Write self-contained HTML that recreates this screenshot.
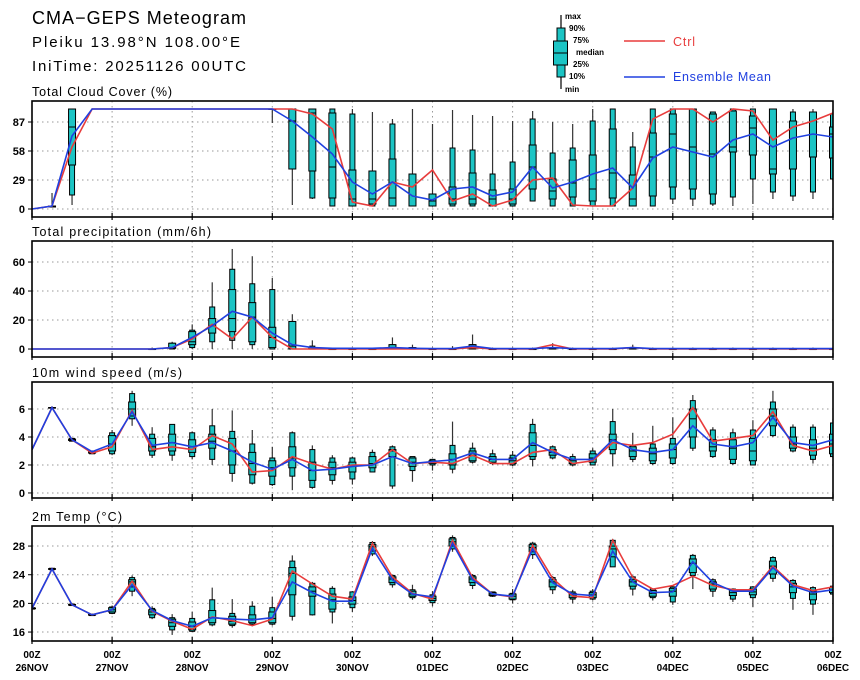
<!DOCTYPE html>
<html><head><meta charset="utf-8">
<style>
html,body{margin:0;padding:0;background:#fff;}
svg{display:block;font-family:"Liberation Sans",sans-serif;}
</style></head>
<body>
<svg id="chart" width="860" height="680" viewBox="0 0 860 680" xmlns="http://www.w3.org/2000/svg">
<text x="32" y="24" font-size="18" fill="#000" textLength="214" lengthAdjust="spacing">CMA−GEPS Meteogram</text>
<text x="32" y="47" font-size="15" fill="#000" textLength="208" lengthAdjust="spacing">Pleiku 13.98°N 108.00°E</text>
<text x="32" y="71" font-size="15" fill="#000" textLength="214" lengthAdjust="spacing">IniTime: 20251126 00UTC</text>
<g>
  <line x1="561" y1="15" x2="561" y2="89" stroke="#000" stroke-width="1.2"/>
  <rect x="557" y="28" width="8" height="49" fill="#1cc4c4" stroke="#000" stroke-width="1"/>
  <rect x="553.5" y="41" width="14" height="24" fill="#1cc4c4" stroke="#000" stroke-width="1"/>
  <line x1="553.5" y1="53" x2="567.5" y2="53" stroke="#000" stroke-width="1"/>
  <g font-size="8" font-weight="bold" fill="#000">
    <text x="565" y="19">max</text>
    <text x="569" y="31">90%</text>
    <text x="573" y="43">75%</text>
    <text x="576" y="55">median</text>
    <text x="573" y="67">25%</text>
    <text x="569" y="79">10%</text>
    <text x="565" y="92">min</text>
  </g>
  <line x1="624" y1="41" x2="665" y2="41" stroke="#e83c3c" stroke-width="1.5"/>
  <text x="673" y="46" font-size="12.5" fill="#e83c3c" textLength="22" lengthAdjust="spacing">Ctrl</text>
  <line x1="624" y1="77" x2="665" y2="77" stroke="#2040e0" stroke-width="1.5"/>
  <text x="673" y="81" font-size="12.5" fill="#2040e0" textLength="98" lengthAdjust="spacing">Ensemble Mean</text>
</g>
</svg>
<script>
// time axis
const dayLabels = ["26NOV","27NOV","28NOV","29NOV","30NOV","01DEC","02DEC","03DEC","04DEC","05DEC","06DEC"];
// ---- Cloud cover (%) ----
const cloudTicks = [0,29,58,87];
const cloudCtrl = [0,3,62,100,100,100,100,100,100,100,100,100,100,100,95,80,7,3,27,22,39,8,15,3,9,29,31,4,3,3,21,90,100,100,87,100,98,69,82,88,96];
const cloudMean = [0,3,73,100,100,100,100,100,100,100,100,100,100,88,72,55,27,15,27,13,9,20,22,13,17,42,21,27,35,41,21,51,62,57,52,69,75,62,71,75,72];
const cloudMin  = [0,2,4,100,100,100,100,100,100,100,100,100,86,4,10,3,3,3,3,3,3,3,3,3,3,8,3,3,3,3,3,3,5,3,3,3,5,10,8,10,30];
const cloudP10  = [0,2,14,100,100,100,100,100,100,100,100,100,100,40,11,3,3,3,3,3,3,3,3,3,3,8,3,3,3,3,3,3,10,10,5,12,30,17,13,17,30];
const cloudP25  = [0,2,44,100,100,100,100,100,100,100,100,100,100,40,38,11,3,5,3,3,3,5,5,3,5,20,10,12,8,11,3,13,22,20,15,57,54,35,40,52,51];
const cloudMed  = [0,3,82,100,100,100,100,100,100,100,100,100,100,88,96,42,10,10,11,3,8,10,10,10,10,42,18,26,20,36,10,52,75,62,55,62,81,40,88,97,75];
const cloudP75  = [0,3,100,100,100,100,100,100,100,100,100,100,100,100,100,96,39,38,50,35,15,22,36,19,20,64,30,49,54,80,34,76,95,100,95,98,93,100,88,97,82];
const cloudP90  = [0,3,100,100,100,100,100,100,100,100,100,100,100,100,100,100,95,38,85,35,15,61,59,35,47,90,56,61,88,100,62,100,100,100,97,100,100,100,97,96,95];
const cloudMax  = [0,16,100,100,100,100,100,100,100,100,100,100,100,100,100,100,100,97,90,100,85,99,94,93,88,98,87,85,100,100,77,100,100,100,97,100,100,100,100,100,100];
// ---- Precipitation (mm/6h) ----
const precTicks = [0,20,40,60];
const precCtrl = [0,0,0,0,0,0,0,1,7,17,7,22,8,0,0,0,0,0,0,0,0,0,1,0,0,0,3,0,0,0,1,0,0,0,0,0,0,0,0,0,0];
const precMean = [0,0,0,0,0,0,0,1,8,16,26,22,11,3,1,0.5,0.5,0.5,1,0.5,0.3,0.3,2,0.3,0.3,0.3,1,0.3,0.3,0.3,1,0.3,0.3,0.3,0.3,0.3,0.3,0.3,0.3,0.3,0.3];
const precMin  = [0,0,0,0,0,0,0,0,0,0,0,0,0,0,0,0,0,0,0,0,0,0,0,0,0,0,0,0,0,0,0,0,0,0,0,0,0,0,0,0,0];
const precP10  = [0,0,0,0,0,0,0,0,1,5,6,3,0,0,0,0,0,0,0,0,0,0,0,0,0,0,0,0,0,0,0,0,0,0,0,0,0,0,0,0,0];
const precP25  = [0,0,0,0,0,0,0,0.5,3,11,12,5,1,0,0,0,0,0,0,0,0,0,0,0,0,0,0,0,0,0,0,0,0,0,0,0,0,0,0,0,0];
const precMed  = [0,0,0,0,0,0,0,1,5,16,21,22,8,2,0,0,0,0,1,0,0,0,1,0,0,0,0,0,0,0,0,0,0,0,0,0,0,0,0,0,0];
const precP75  = [0,0,0,0,0,0,0,4,12,21,41,32,15,19,1,0,0,0,3,1,0,0,3,0,0,0,1,0,0,0,1,0,0,0,0,0,0,0,0,0,0];
const precP90  = [0,0,0,0,0,0,0,4,13,29,55,45,41,19,2,0,0,0,3,1,0,0,3,0,0,0,1,0,0,0,1,0,0,0,0,0,0,0,0,0,0];
const precMax  = [0,0,0,0,0,0,1,5,17,46,69,64,49,24,6,1,1,1,8,3,1,2,10,1,1,1,4,1,1,1,3,1,1,1,1,1,1,1,1,1,1];
// ---- Wind speed (m/s) ----
const windTicks = [0,2,4,6];
const windCtrl = [3.1,6.1,3.8,2.85,3.3,5.9,3.1,3.3,3.1,4.1,3.5,1.5,1.6,2.6,2.1,1.7,2.0,2.0,3.1,2.1,2.2,2.1,2.7,2.1,2.1,2.9,3.1,2.1,2.3,3.6,3.4,3.6,4.2,6.1,3.7,3.9,4.1,5.8,3.4,3.0,3.4];
const windMean = [3.1,6.1,3.8,2.95,3.5,5.8,3.4,3.6,3.3,3.6,3.0,2.2,1.7,2.4,1.6,1.7,1.9,2.0,2.6,2.1,2.25,2.36,2.86,2.4,2.4,3.6,2.9,2.4,2.4,3.8,3.1,2.9,3.1,4.8,3.5,3.3,3.6,5.4,3.6,3.4,3.8];
const windMin  = [3.1,6.1,3.7,2.8,2.7,4.8,2.5,2.3,2.4,2.0,0.8,0.6,0.5,0.2,0.3,0.6,0.6,1.5,0.3,0.8,1.6,1.4,2.1,2.0,1.9,1.9,2.4,1.9,2.0,1.9,2.2,2.0,2.0,3.0,2.5,2.0,2.0,4.0,2.9,2.1,2.5];
const windP10  = [3.1,6.1,3.7,2.8,2.8,5.3,2.7,2.7,2.6,2.4,1.4,0.7,0.6,1.2,0.4,0.9,1.0,1.5,0.5,1.6,2.0,1.7,2.2,2.1,2.0,2.4,2.5,2.0,2.0,2.8,2.4,2.1,2.1,3.2,2.6,2.1,2.0,4.1,3.0,2.4,2.6];
const windP25  = [3.1,6.1,3.75,2.85,3.0,5.5,3.0,3.0,2.9,3.2,2.0,1.3,1.2,1.8,0.9,1.3,1.5,1.8,2.6,1.9,2.1,2.0,2.3,2.2,2.1,2.6,2.7,2.1,2.2,3.1,2.6,2.3,2.5,4.0,3.0,2.4,2.3,4.8,3.2,2.7,2.8];
const windMed  = [3.1,6.1,3.8,2.9,3.5,6.0,3.3,3.6,3.3,3.7,3.0,2.1,1.8,2.5,1.6,1.8,1.9,2.1,3.0,2.2,2.2,2.4,2.7,2.4,2.3,3.4,2.9,2.3,2.5,3.8,3.0,2.8,3.1,5.3,3.3,3.2,3.0,5.5,3.5,3.2,3.5];
const windP75  = [3.1,6.1,3.85,2.95,4.1,6.5,3.9,4.2,3.8,4.2,3.9,2.9,2.3,3.3,2.2,2.2,2.2,2.6,3.1,2.5,2.3,2.8,3.0,2.6,2.5,4.3,3.1,2.4,2.8,4.2,3.3,3.2,3.5,6.0,3.8,3.8,3.9,6.0,4.0,3.8,4.2];
const windP90  = [3.1,6.1,3.9,3.0,4.3,7.1,4.2,4.9,4.3,4.8,4.4,3.5,2.5,4.3,3.1,2.5,2.5,2.9,3.3,2.6,2.4,3.4,3.2,2.8,2.7,4.9,3.3,2.6,3.0,5.1,3.4,3.5,3.9,6.6,4.5,4.3,4.5,6.5,4.7,4.7,5.0];
const windMax  = [3.1,6.2,3.9,3.0,4.5,7.3,4.7,4.9,4.4,6.0,5.9,4.5,3.3,4.4,3.4,2.7,2.6,3.1,3.4,2.6,2.4,5.1,3.6,3.1,3.0,5.3,3.4,2.8,3.2,6.0,4.3,4.8,5.4,7.0,4.7,4.6,5.2,7.3,4.9,4.9,5.3];
// ---- 2m Temperature (°C) ----
const tempTicks = [16,20,24,28];
const tempCtrl = [19.3,24.8,19.8,18.4,19.1,23.1,18.9,17.5,16.4,18.1,17.6,16.9,17.8,24.5,22.7,21.0,20.6,28.4,23.7,21.4,20.6,28.8,23.6,21.3,20.9,28.1,23.5,21.0,20.8,28.8,23.6,22.0,22.5,23.8,22.5,21.9,21.9,25.2,22.6,21.8,22.3];
const tempMean = [19.3,24.8,19.8,18.4,19.1,22.6,19.0,17.6,16.8,18.0,17.8,17.7,18.0,23.0,21.5,20.3,20.3,27.7,23.3,21.3,20.9,28.4,23.3,21.3,21.0,27.6,22.9,21.3,21.1,27.3,23.0,21.5,21.6,25.8,22.9,21.7,21.7,25.0,22.4,21.5,21.9];
const tempMin  = [19.2,24.7,19.7,18.3,18.5,21.0,17.8,15.6,16.0,16.8,16.6,16.8,16.9,17.6,18.3,17.2,18.8,26.6,22.2,20.5,19.6,27.2,22.0,20.9,20.0,26.2,21.3,20.0,20.4,25.1,21.1,20.4,19.8,22.0,20.9,20.2,19.5,23.0,19.1,18.4,21.0];
const tempP10  = [19.2,24.7,19.7,18.3,18.6,21.7,18.0,16.3,16.1,17.0,16.9,17.1,17.1,18.2,18.4,18.8,19.4,26.9,22.6,20.8,20.1,27.6,22.5,21.0,20.5,26.8,21.9,20.6,20.6,25.1,22.0,20.8,20.2,23.9,21.7,20.6,20.8,23.5,20.7,19.9,21.3];
const tempP25  = [19.25,24.75,19.75,18.35,18.8,22.3,18.4,16.8,16.3,17.3,17.1,17.3,17.3,21.2,21.0,19.2,19.9,27.3,22.9,21.0,20.4,28.0,22.9,21.1,20.6,27.2,22.3,20.8,20.8,26.5,22.4,21.0,21.0,24.3,22.0,21.1,21.2,24.1,21.5,20.5,21.5];
const tempMed  = [19.3,24.8,19.8,18.4,19.1,23.0,18.8,17.3,16.8,18.0,17.5,17.8,17.9,24.2,21.7,20.5,20.4,27.9,23.4,21.3,20.7,28.6,23.4,21.3,21.0,27.8,23.0,21.2,21.2,27.6,23.0,21.4,21.7,25.6,22.7,21.5,21.6,25.2,22.3,21.3,21.9];
const tempP75  = [19.35,24.85,19.85,18.45,19.4,23.3,19.1,17.8,17.4,19.0,18.2,18.4,18.8,25.0,22.3,21.3,20.9,28.2,23.7,21.7,21.0,29.0,23.7,21.5,21.3,28.2,23.3,21.4,21.5,28.0,23.3,21.8,22.1,26.2,23.0,21.8,22.0,25.9,22.8,21.7,22.2];
const tempP90  = [19.4,24.9,19.9,18.5,19.5,23.6,19.3,18.0,17.9,20.5,18.6,19.6,19.4,25.9,22.8,22.1,21.6,28.5,23.9,21.9,21.2,29.2,23.9,21.6,21.4,28.4,23.6,21.6,21.7,28.8,23.7,22.0,22.3,26.7,23.3,22.0,22.3,26.4,23.2,22.2,22.4];
const tempMax  = [19.4,24.9,19.9,18.5,19.7,23.9,19.6,18.5,18.8,22.2,20.6,20.3,20.9,26.7,23.0,22.4,21.7,28.7,24.0,22.6,21.7,29.5,24.1,21.6,22.0,28.6,23.8,21.9,22.0,29.0,23.9,22.1,22.5,26.9,23.5,22.1,22.4,26.6,23.4,22.4,22.5];

const NS = "http://www.w3.org/2000/svg";
const svg = document.getElementById("chart");
const X0 = 32, X1 = 833, NSTEP = 40;
function xScale(i){ return X0 + (X1 - X0) * i / NSTEP; }
function mk(tag, attrs, parent){
  const el = document.createElementNS(NS, tag);
  for (const k in attrs) el.setAttribute(k, attrs[k]);
  (parent || svg).appendChild(el);
  return el;
}

function drawPanel(p){
  const g = mk("g", {});
  
  
  const yScale = v => p.top + (p.vmax - v) / (p.vmax - p.vmin) * (p.bottom - p.top);
  const clipId = p.name + "-clip";
  const defs = mk("defs", {}, g);
  const cp = mk("clipPath", {id: clipId}, defs);
  mk("rect", {x: X0, y: p.top, width: X1 - X0, height: p.bottom - p.top}, cp);
  const t = mk("text", {x: X0, y: p.top - 5, "font-size": 12.5, fill: "#000", textLength: p.titleLen, lengthAdjust: "spacing"}, g);
  
  
  t.textContent = p.title;
  for (let d = 1; d < dayLabels.length - 1; d++){
    const x = xScale(d * 4);
    const gl = mk("line", {x1: x, y1: p.top, x2: x, y2: p.bottom, stroke: "#999", "stroke-width": 1, "stroke-dasharray": "1.5,3.5"}, g);
    
    
  }
  p.ticks.forEach(v => {
    const y = yScale(v);
    const gl = mk("line", {x1: X0, y1: y, x2: X1, y2: y, stroke: "#999", "stroke-width": 1, "stroke-dasharray": "1.5,3.5"}, g);
    
    
    const tk = mk("line", {x1: X0 - 4, y1: y, x2: X0, y2: y, stroke: "#000", "stroke-width": 1}, g);
    
    
    const lb = mk("text", {x: 25, y: y + 4, "font-size": 11, "font-weight": "bold", "text-anchor": "end", fill: "#000"}, g);
    
    
    lb.textContent = v;
  });
  for (let d = 0; d < dayLabels.length; d++){
    const x = xScale(d * 4);
    const tk = mk("line", {x1: x, y1: p.bottom - 4, x2: x, y2: p.bottom + 3, stroke: "#000", "stroke-width": 1.2}, g);
    
    
  }
  const pg = mk("g", {"clip-path": "url(#" + clipId + ")"}, g);
  for (let i = 0; i < p.ctrl.length; i++){
    if (p.max[i] - p.min[i] <= 0) continue;
    const x = xScale(i);
    const bg = mk("g", {}, pg);
    
    
    mk("line", {x1: x, y1: yScale(p.max[i]), x2: x, y2: yScale(p.min[i]), stroke: "#333", "stroke-width": 1.2}, bg);
    const y90 = yScale(p.p90[i]), y10 = yScale(p.p10[i]);
    mk("rect", {x: x - 2.5, y: y90, width: 5, height: Math.max(0.5, y10 - y90), fill: "#1cc4c4", stroke: "#000", "stroke-width": 1}, bg);
    const y75 = yScale(p.p75[i]), y25 = yScale(p.p25[i]);
    mk("rect", {x: x - 3.5, y: y75, width: 7, height: Math.max(0.5, y25 - y75), fill: "#1cc4c4", stroke: "#000", "stroke-width": 1}, bg);
    const ym = yScale(p.med[i]);
    mk("line", {x1: x - 3.5, y1: ym, x2: x + 3.5, y2: ym, stroke: "#000", "stroke-width": 1}, bg);
  }
  const mkPath = arr => arr.map((v, i) => (i ? "L" : "M") + xScale(i).toFixed(1) + "," + yScale(v).toFixed(1)).join("");
  const rl = mk("path", {d: mkPath(p.ctrl), fill: "none", stroke: "#e83c3c", "stroke-width": 1.6}, pg);
  
  
  const bl = mk("path", {d: mkPath(p.mean), fill: "none", stroke: "#2040e0", "stroke-width": 1.6}, pg);
  
  
  const fr = mk("rect", {x: X0, y: p.top, width: X1 - X0, height: p.bottom - p.top, fill: "none", stroke: "#000", "stroke-width": 1.6}, g);
  
  
}

drawPanel({name: "cloud-cover", title: "Total Cloud Cover (%)", titleLen: 140, top: 101, bottom: 217, vmin: -8, vmax: 108, ticks: cloudTicks,
  ctrl: cloudCtrl, mean: cloudMean, min: cloudMin, p10: cloudP10, p25: cloudP25, med: cloudMed, p75: cloudP75, p90: cloudP90, max: cloudMax});
drawPanel({name: "precipitation", title: "Total precipitation (mm/6h)", titleLen: 179, top: 241, bottom: 357, vmin: -5.5, vmax: 74.5, ticks: precTicks,
  ctrl: precCtrl, mean: precMean, min: precMin, p10: precP10, p25: precP25, med: precMed, p75: precP75, p90: precP90, max: precMax});
drawPanel({name: "wind-speed", title: "10m wind speed (m/s)", titleLen: 150, top: 382, bottom: 498, vmin: -0.36, vmax: 7.93, ticks: windTicks,
  ctrl: windCtrl, mean: windMean, min: windMin, p10: windP10, p25: windP25, med: windMed, p75: windP75, p90: windP90, max: windMax});
drawPanel({name: "temperature", title: "2m Temp (°C)", titleLen: 90, top: 526, bottom: 641, vmin: 14.75, vmax: 30.8, ticks: tempTicks,
  ctrl: tempCtrl, mean: tempMean, min: tempMin, p10: tempP10, p25: tempP25, med: tempMed, p75: tempP75, p90: tempP90, max: tempMax});

dayLabels.forEach((lab, d) => {
  const x = xScale(d * 4);
  const t1 = mk("text", {x: x, y: 658, "font-size": 10, "font-weight": "bold", "text-anchor": "middle", fill: "#000"});
  
  
  t1.textContent = "00Z";
  const t2 = mk("text", {x: x, y: 671, "font-size": 10, "font-weight": "bold", "text-anchor": "middle", fill: "#000"});
  
  
  t2.textContent = lab;
});
</script>
</body></html>
